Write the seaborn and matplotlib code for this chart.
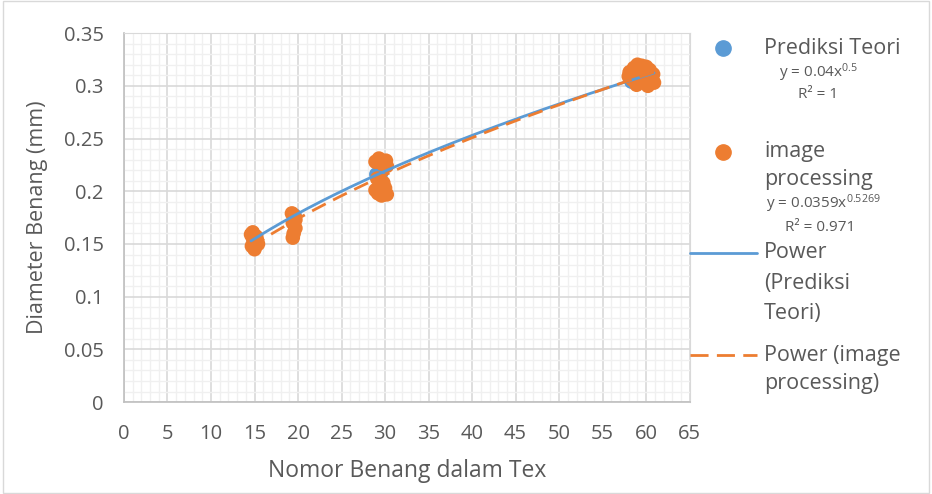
import numpy as np
import pandas as pd
import matplotlib
matplotlib.use('Agg')
import matplotlib.pyplot as plt
from matplotlib.lines import Line2D
from matplotlib.patches import Rectangle
from matplotlib.ticker import MultipleLocator
import seaborn as sns

# data
teori_x = [14.9, 19.6, 29.0, 29.6, 58.3, 59.3, 60.6]
teori_y = [0.154, 0.177, 0.216, 0.218, 0.304, 0.308, 0.311]

img_x = [14.6, 14.8, 15.1, 15.4, 14.7, 15.0, 15.3, 14.8, 15.2,
         19.3, 19.6, 19.4, 19.7, 19.5, 19.4, 19.7,
         28.9, 29.3, 29.7, 30.1, 30.2, 29.1, 29.8, 30.0, 29.2, 29.6, 28.9, 30.2,
         58.1, 58.6, 59.0, 59.5, 60.0, 60.4, 60.8, 58.4, 58.9, 59.6, 60.2, 60.9, 58.0, 59.3, 59.9]
img_y = [0.159, 0.156, 0.152, 0.150, 0.148, 0.145, 0.153, 0.161, 0.157,
         0.179, 0.176, 0.170, 0.165, 0.160, 0.156, 0.173,
         0.228, 0.231, 0.226, 0.229, 0.224, 0.212, 0.208, 0.203, 0.198, 0.196, 0.201, 0.197,
         0.313, 0.317, 0.320, 0.319, 0.318, 0.315, 0.311, 0.306, 0.301, 0.304, 0.300, 0.303, 0.309, 0.312, 0.308]

# power trendline coefficients y = a * x^b
teori_a, teori_b = 0.04, 0.5
img_a, img_b = 0.0359, 0.5269
fit_range = (14.6, 60.9)

blue = '#5B9BD5'
orange = '#ED7D31'
txt = '#595959'

sns.set_style('white')
plt.rcParams['font.family'] = ['Open Sans', 'DejaVu Sans']
plt.rcParams['mathtext.default'] = 'regular'
plt.rcParams['mathtext.fontset'] = 'custom'
plt.rcParams['mathtext.rm'] = 'Open Sans'

fig = plt.figure(figsize=(9.32, 4.94), dpi=100)
ax = fig.add_axes([0.133, 0.186, 0.607, 0.747])

df_t = pd.DataFrame({'x': teori_x, 'y': teori_y})
df_i = pd.DataFrame({'x': img_x, 'y': img_y})
sns.scatterplot(data=df_t, x='x', y='y', ax=ax, color=blue, s=110, edgecolor='none', zorder=3)
sns.scatterplot(data=df_i, x='x', y='y', ax=ax, color=orange, s=110, edgecolor='none', zorder=4)

xs = np.linspace(fit_range[0], fit_range[1], 200)
ax.plot(xs, teori_a * xs ** teori_b, color=blue, lw=2, zorder=5)
ax.plot(xs, img_a * xs ** img_b, color=orange, lw=2, dashes=(5.5, 3), zorder=5)

ax.set_xlim(0, 65)
ax.set_ylim(0, 0.35)
ax.xaxis.set_minor_locator(MultipleLocator(1))
ax.yaxis.set_minor_locator(MultipleLocator(0.01))
ax.grid(which='major', color='#d9d9d9', lw=1.2)
ax.grid(which='minor', color='#f0f0f0', lw=1)
ax.set_axisbelow(True)
ax.tick_params(which='both', length=0, labelsize=14.5, colors=txt)
ax.tick_params(axis='x', pad=16)
ax.tick_params(axis='y', pad=14.5)
ax.set_xticks(range(0, 70, 5))
ax.set_xticklabels([str(v) for v in range(0, 70, 5)])
yt = [0, 0.05, 0.1, 0.15, 0.2, 0.25, 0.3, 0.35]
ax.set_yticks(yt)
ax.set_yticklabels(['0', '0.05', '0.1', '0.15', '0.2', '0.25', '0.3', '0.35'])
for s in ['top', 'right']:
    ax.spines[s].set_color('#d9d9d9')
for s in ['left', 'bottom']:
    ax.spines[s].set_color('#bfbfbf')
    ax.spines[s].set_linewidth(1.2)

ax.set_xlabel('Nomor Benang dalam Tex', fontsize=16.5, color=txt, va='center')
ax.set_ylabel('Diameter Benang (mm)', fontsize=15.5, color=txt, va='center')
ax.xaxis.set_label_coords(0.5, -0.187)
ax.yaxis.set_label_coords(-0.153, 0.5)

# legend, drawn on the figure
def fx(px):
    return px / 932

def fy(py):
    return 1 - py / 494

fig.add_artist(Line2D([fx(723)], [fy(48)], marker='o', ms=11, color=blue, ls='none'))
fig.add_artist(Line2D([fx(723)], [fy(152)], marker='o', ms=11, color=orange, ls='none'))
fig.add_artist(Line2D([fx(690), fx(757)], [fy(253), fy(253)], color=blue, lw=2))
fig.add_artist(Line2D([fx(690), fx(757)], [fy(355), fy(355)], color=orange, lw=2, dashes=(6.5, 3)))

lkw = dict(fontsize=15.5, color=txt, va='center', ha='left')
fig.text(fx(764), fy(48), 'Prediksi Teori', **lkw)
fig.text(fx(764), fy(152), 'image', **lkw)
fig.text(fx(764), fy(180), 'processing', **lkw)
fig.text(fx(764), fy(253), 'Power', **lkw)
fig.text(fx(764), fy(283), '(Prediksi', **lkw)
fig.text(fx(764), fy(313), 'Teori)', **lkw)
fig.text(fx(764), fy(355), 'Power (image', **lkw)
fig.text(fx(764), fy(383), 'processing)', **lkw)

ekw = dict(fontsize=11, color=txt, va='center', ha='center')
fig.text(fx(818), fy(73), r'y = 0.04x$^{0.5}$', **ekw)
fig.text(fx(818), fy(95), 'R² = 1', **ekw)
fig.text(fx(823), fy(204), r'y = 0.0359x$^{0.5269}$', **ekw)
fig.text(fx(820), fy(227), 'R² = 0.971', **ekw)

fig.add_artist(Rectangle((0.003, 0.003), 0.994, 0.994, transform=fig.transFigure,
                         fill=False, edgecolor='#d9d9d9', lw=1))

fig.savefig('out.png', dpi=100)
